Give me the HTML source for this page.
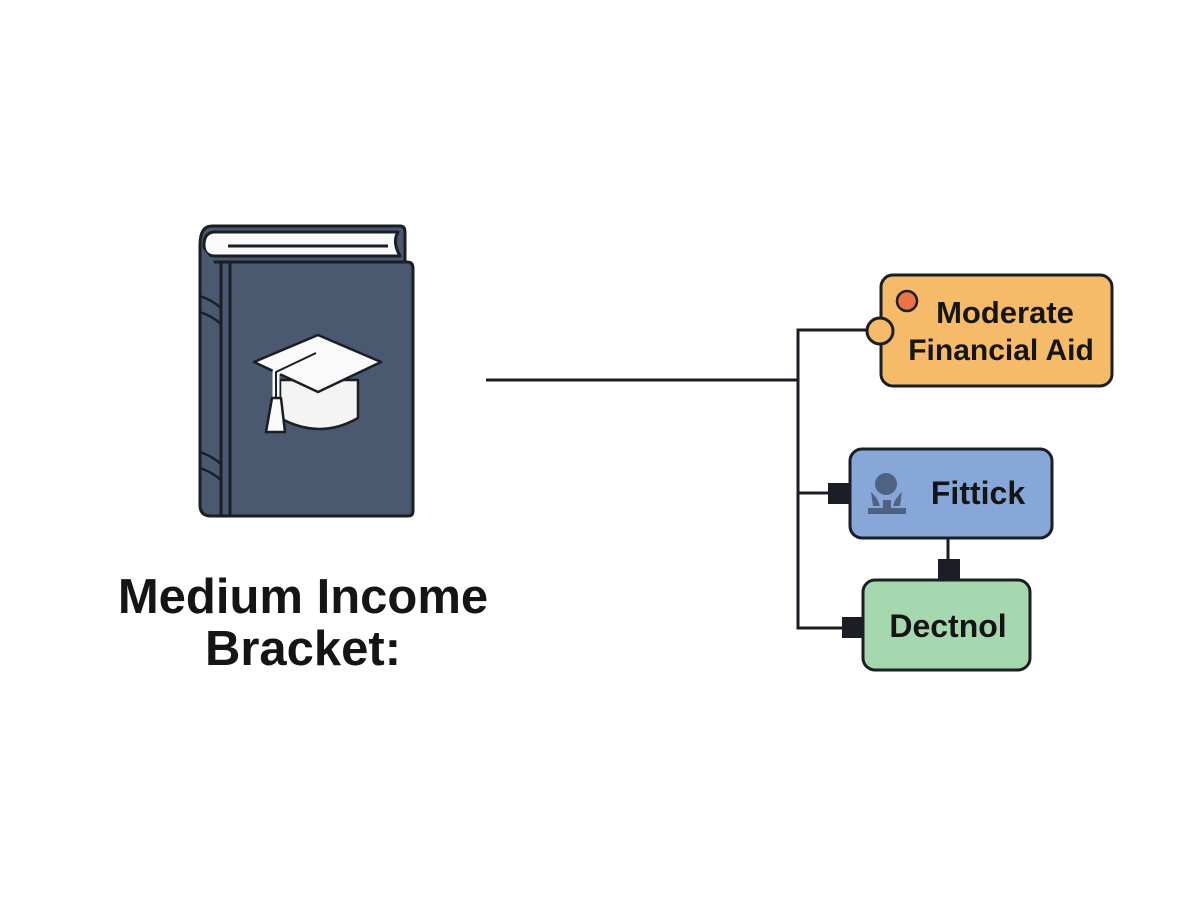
<!DOCTYPE html>
<html><head><style>
body{margin:0;background:#fff;width:1195px;height:896px;overflow:hidden;font-family:"Liberation Sans",sans-serif}
</style></head><body>
<svg width="1195" height="896" xmlns="http://www.w3.org/2000/svg">
<rect width="1195" height="896" fill="#fff"/>
<!-- book -->
<g stroke="#1b1e24" stroke-width="3" stroke-linejoin="round">
<path d="M212 226 H400 Q405 226 405 232 V262 H214 Q200 262 200 245 Q200 226 212 226Z" fill="#4a5870"/>
<path d="M215 232 H398 Q392 242 400 256 H215 Q204 256 204 245 Q204 232 215 232Z" fill="#fafafa"/>
<line x1="228" y1="246" x2="388" y2="246" stroke-width="3"/>
<path d="M200 245 V505 Q200 516 211 516 H408 Q413 516 413 511 V268 Q413 262 407 262 H214" fill="#4a5870"/>
<line x1="221" y1="262" x2="221" y2="516"/>
<line x1="230" y1="262" x2="230" y2="516"/>
<path d="M200 296 Q212 300 221 308 M200 312 Q212 316 221 324 M200 452 Q212 456 221 464 M200 468 Q212 472 221 480" fill="none" stroke-width="2.5"/>
</g>
<!-- cap -->
<g stroke="#1b1e24" stroke-width="2.5" stroke-linejoin="round">
<path d="M280 380 V418 Q320 440 358 418 V380Z" fill="#f4f4f4"/>
<path d="M254 362 L318 335 L381 362 L318 392Z" fill="#fafafa"/>
<path d="M316 353 L276 372 V398" fill="none" stroke="#fafafa" stroke-width="7"/>
<path d="M316 353 L276 372 V398" fill="none" stroke-width="2"/>
<path d="M272 398 H281 L285 432 H266Z" fill="#fafafa"/>
</g>
<text x="303" y="613" font-size="49" font-weight="bold" text-anchor="middle" fill="#151515">Medium Income</text>
<text x="303" y="665" font-size="49" font-weight="bold" text-anchor="middle" fill="#151515">Bracket:</text>
<!-- connectors -->
<g stroke="#1b1e24" stroke-width="3" fill="none">
<line x1="486" y1="380" x2="798" y2="380"/>
<polyline points="868,330 798,330 798,628 845,628"/>
<line x1="798" y1="493" x2="832" y2="493"/>
<line x1="948" y1="538" x2="948" y2="562"/>
</g>
<rect x="828" y="483" width="22" height="21" fill="#1b1e24"/>
<rect x="938" y="559" width="22" height="22" fill="#1b1e24"/>
<rect x="842" y="617" width="22" height="21" fill="#1b1e24"/>
<!-- boxes -->
<rect x="881" y="275" width="231" height="111" rx="12" fill="#f6bb68" stroke="#1b1e24" stroke-width="3"/>
<circle cx="880" cy="331" r="13" fill="#f6bb68" stroke="#1b1e24" stroke-width="3"/>
<circle cx="907" cy="301" r="10" fill="#ea7448" stroke="#1b1e24" stroke-width="2.5"/>
<text x="1005" y="323" font-size="31" font-weight="bold" text-anchor="middle" fill="#151515">Moderate</text>
<text x="1001" y="360" font-size="30" font-weight="bold" text-anchor="middle" fill="#151515">Financial Aid</text>
<rect x="850" y="449" width="202" height="89" rx="12" fill="#86a7d8" stroke="#1b1e24" stroke-width="3"/>
<g fill="#4f6284"><circle cx="886" cy="484" r="11"/><path d="M871 492 Q878 498 880 506 H873Z M902 492 Q895 498 893 506 H900Z"/><rect x="868" y="508" width="38" height="6"/><rect x="883" y="500" width="8" height="10"/></g>
<text x="978" y="504" font-size="32" font-weight="bold" text-anchor="middle" fill="#151515">Fittick</text>
<rect x="863" y="580" width="167" height="90" rx="12" fill="#a6d8b0" stroke="#1b1e24" stroke-width="3"/>
<text x="948" y="637" font-size="32" font-weight="bold" text-anchor="middle" fill="#151515">Dectnol</text>
</svg>
</body></html>
